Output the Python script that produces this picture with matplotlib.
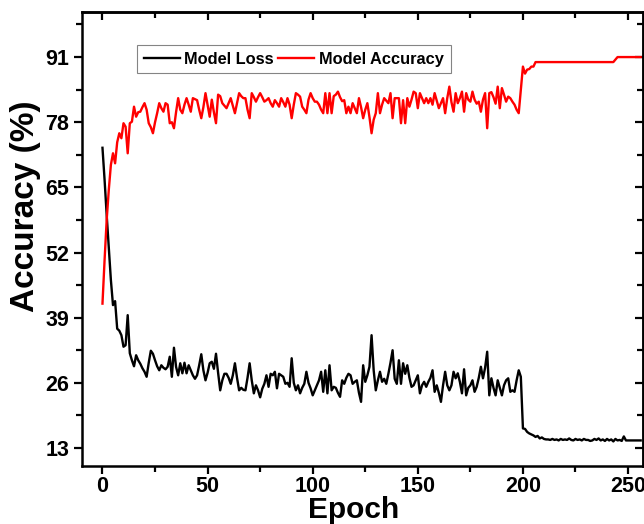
import matplotlib
matplotlib.use("Agg")
import matplotlib.pyplot as plt
from matplotlib.ticker import MultipleLocator

# ---- data ----
loss_epochs = list(range(0, 257))
loss_values = [
    72.9, 66.5, 59.5, 53.0, 46.5, 41.5, 42.3, 36.8, 36.4, 35.5,   # 0-9
    33.2, 33.5, 39.5, 31.9, 30.5, 29.3, 31.5, 30.5, 29.8, 28.9,   # 10-19
    28.2, 27.2, 30.0, 32.4, 31.8, 30.5, 29.3, 28.5, 29.5, 29.0,   # 20-29
    28.7, 29.2, 31.2, 27.2, 33.0, 29.2, 27.5, 29.9, 27.9, 30.0,   # 30-39
    27.9, 29.5, 28.5, 27.5, 26.8, 27.5, 29.5, 31.7, 28.5, 26.5,   # 40-49
    28.0, 29.9, 30.2, 28.8, 31.8, 28.0, 24.5, 26.5, 27.8, 27.8,   # 50-59
    27.0, 25.8, 27.5, 29.9, 27.0, 24.5, 25.0, 24.6, 24.5, 27.0,   # 60-69
    29.9, 26.5, 23.9, 25.5, 24.5, 23.1, 24.8, 25.8, 27.5, 25.2,   # 70-79
    27.8, 27.5, 28.2, 24.9, 27.8, 27.5, 27.2, 25.8, 26.0, 25.2,   # 80-89
    30.9, 26.0, 24.5, 25.5, 23.9, 25.0, 25.8, 28.2, 26.0, 24.9,   # 90-99
    23.5, 24.5, 25.5, 26.5, 28.2, 24.2, 28.5, 23.9, 29.5, 24.5,   # 100-109
    25.2, 25.0, 24.0, 23.2, 26.5, 25.8, 27.0, 27.8, 27.5, 25.8,   # 110-119
    26.2, 26.5, 24.0, 22.2, 29.5, 26.2, 27.5, 29.2, 35.5, 28.5,   # 120-129
    24.5, 26.5, 28.2, 26.2, 26.8, 25.8, 27.8, 30.0, 32.5, 26.8,   # 130-139
    25.8, 30.5, 25.8, 29.9, 27.8, 29.5, 27.0, 25.2, 25.5, 26.5,   # 140-149
    27.5, 23.9, 25.5, 26.2, 25.2, 26.2, 27.0, 28.5, 24.2, 25.5,   # 150-159
    24.0, 22.2, 25.5, 28.2, 25.5, 24.5, 25.5, 28.2, 26.9, 27.9,   # 160-169
    26.2, 23.9, 28.7, 23.5, 25.0, 25.5, 26.5, 24.2, 25.2, 27.0,   # 170-179
    29.2, 26.9, 29.0, 32.2, 23.5, 26.9, 25.0, 23.5, 26.5, 25.0,   # 180-189
    23.5, 25.5, 26.5, 26.9, 24.2, 24.5, 24.2, 26.5, 28.5, 27.2,   # 190-199
    16.9, 16.8, 16.2, 15.9, 15.7, 15.5, 15.2, 15.4, 14.9, 15.1,   # 200-209
    14.8, 14.7, 14.7, 14.6, 14.8, 14.6, 14.7, 14.5, 14.8, 14.6,   # 210-219
    14.7, 14.6, 14.9, 14.6, 14.5, 14.8, 14.6, 14.7, 14.5, 14.8,   # 220-229
    14.6, 14.6, 14.4, 14.5, 14.8, 14.6, 14.9, 14.5, 14.7, 14.4,   # 230-239
    14.8, 14.5, 14.7, 14.3, 14.8, 14.5, 14.6, 14.4, 15.3, 14.5,   # 240-249
    14.5, 14.5, 14.5, 14.5, 14.5, 14.5, 14.5,                     # 250-256
]

acc_epochs = list(range(0, 257))
acc_values = [
    41.8, 50.5, 58.5, 64.5, 69.5, 71.8, 69.8, 74.0, 75.8, 74.8,   # 0-9
    77.8, 77.1, 71.8, 77.8, 78.1, 81.1, 79.1, 80.0, 80.1, 81.0,   # 10-19
    81.8, 80.5, 77.8, 77.0, 75.8, 78.0, 79.8, 81.8, 80.8, 80.1,   # 20-29
    81.8, 81.5, 77.8, 78.0, 76.8, 80.0, 82.8, 80.5, 79.8, 81.5,   # 30-39
    82.8, 81.5, 80.1, 82.8, 82.6, 82.4, 80.5, 78.8, 81.0, 83.8,   # 40-49
    81.5, 79.1, 82.5, 80.0, 77.8, 83.5, 83.2, 81.8, 81.3, 80.8,   # 50-59
    81.8, 82.8, 81.3, 79.8, 81.8, 83.8, 83.2, 82.8, 82.8, 80.5,   # 60-69
    78.8, 83.8, 83.0, 82.1, 83.0, 83.8, 83.0, 82.1, 82.4, 82.8,   # 70-79
    81.8, 81.1, 82.4, 81.8, 81.1, 82.8, 82.0, 81.1, 82.8, 81.5,   # 80-89
    78.8, 81.5, 83.8, 83.5, 83.1, 81.1, 80.5, 79.8, 82.5, 83.8,   # 90-99
    82.8, 82.1, 82.1, 81.5, 80.5, 79.8, 83.8, 79.8, 83.8, 79.8,   # 100-109
    83.2, 83.5, 84.1, 83.0, 82.2, 82.4, 79.8, 81.1, 79.8, 81.8,   # 110-119
    80.8, 79.8, 82.8, 81.0, 78.8, 80.5, 81.8, 79.0, 75.8, 78.5,   # 120-129
    79.8, 83.8, 79.8, 81.5, 82.8, 82.3, 81.8, 83.8, 78.8, 82.8,   # 130-139
    82.8, 82.8, 77.8, 82.4, 77.8, 82.8, 81.1, 82.5, 84.1, 83.8,   # 140-149
    80.8, 83.8, 82.8, 81.8, 82.8, 81.8, 82.8, 81.5, 83.8, 82.3,   # 150-159
    80.8, 81.8, 82.8, 79.8, 82.8, 85.1, 82.0, 80.1, 83.8, 81.8,   # 160-169
    82.8, 84.1, 80.1, 83.8, 82.5, 82.1, 84.1, 82.5, 81.7, 82.1,   # 170-179
    80.1, 82.5, 83.8, 76.8, 83.8, 84.0, 83.0, 81.7, 85.1, 80.8,   # 180-189
    84.8, 83.5, 82.1, 83.1, 82.8, 82.1, 81.5, 80.5, 79.8, 84.5,   # 190-199
    89.1, 87.7, 88.5, 88.6, 89.1, 89.1, 90.0, 90.0, 90.0, 90.0,   # 200-209
    90.0, 90.0, 90.0, 90.0, 90.0, 90.0, 90.0, 90.0, 90.0, 90.0,   # 210-219
    90.0, 90.0, 90.0, 90.0, 90.0, 90.0, 90.0, 90.0, 90.0, 90.0,   # 220-229
    90.0, 90.0, 90.0, 90.0, 90.0, 90.0, 90.0, 90.0, 90.0, 90.0,   # 230-239
    90.0, 90.0, 90.0, 90.0, 90.5, 91.0, 91.0, 91.0, 91.0, 91.0,   # 240-249
    91.0, 91.0, 91.0, 91.0, 91.0, 91.0, 91.0,                     # 250-256
]

y_ticks = [13, 26, 39, 52, 65, 78, 91]
x_ticks = [0, 50, 100, 150, 200, 250]
series_labels = ["Model Loss", "Model Accuracy"]
x_label = "Epoch"
y_label = "Accuracy (%)"

# ---- style ----
plt.rcParams["font.family"] = ["Liberation Sans", "DejaVu Sans"]
plt.rcParams["font.weight"] = "bold"

fig = plt.figure(figsize=(6.44, 5.24), dpi=100)
ax = fig.add_axes([0.1273, 0.1107, 0.8711, 0.8655])

ax.plot(loss_epochs, loss_values, color="black", lw=1.7, label=series_labels[0])
ax.plot(acc_epochs, acc_values, color="#ff0000", lw=1.7, label=series_labels[1])

ax.set_xlim(-9.75, 257.1)
ax.set_ylim(9.4, 99.9)

ax.set_xticks(x_ticks)
ax.set_yticks(y_ticks)
ax.xaxis.set_minor_locator(MultipleLocator(25))
ax.yaxis.set_minor_locator(MultipleLocator(6.5))

for s in ax.spines.values():
    s.set_linewidth(1.8)

ax.tick_params(which="both", direction="out", width=1.6, labelsize=15.5)
ax.tick_params(which="major", length=6)
ax.tick_params(which="minor", length=4)
ax.tick_params(axis="x", which="major", pad=1)
ax.tick_params(axis="y", which="major", pad=3)
for lab in ax.get_xticklabels() + ax.get_yticklabels():
    lab.set_fontweight("bold")

# mirrored inward ticks on top and right
top = ax.secondary_xaxis("top")
top.set_xticks(x_ticks)
top.xaxis.set_minor_locator(MultipleLocator(25))
top.tick_params(which="both", direction="in", width=1.6, labeltop=False)
top.tick_params(which="major", length=6)
top.tick_params(which="minor", length=4)
top.spines["top"].set_linewidth(1.8)

right = ax.secondary_yaxis("right")
right.set_yticks(y_ticks)
right.yaxis.set_minor_locator(MultipleLocator(6.5))
right.tick_params(which="both", direction="in", width=1.6, labelright=False)
right.tick_params(which="major", length=6)
right.tick_params(which="minor", length=4)
right.spines["right"].set_linewidth(1.8)

ax.set_xlabel(x_label, fontsize=21.5, fontweight="bold")
ax.xaxis.label.set_va("center")
ax.xaxis.set_label_coords(0.484, -0.097)

ax.set_ylabel(y_label, fontsize=24, fontweight="bold")
ax.yaxis.label.set_va("center")
ax.yaxis.set_label_coords(-0.1, 0.572)

leg = ax.legend(loc="upper left", bbox_to_anchor=(0.098, 0.928), ncol=2,
                frameon=True, fancybox=False, edgecolor="#666666",
                fontsize=11.8, handlelength=2.2, handletextpad=0.3,
                columnspacing=0.25, borderpad=0.4, borderaxespad=0)
leg.get_frame().set_linewidth(0.8)
for t in leg.get_texts():
    t.set_fontweight("bold")

fig.savefig("out.png", dpi=100)
